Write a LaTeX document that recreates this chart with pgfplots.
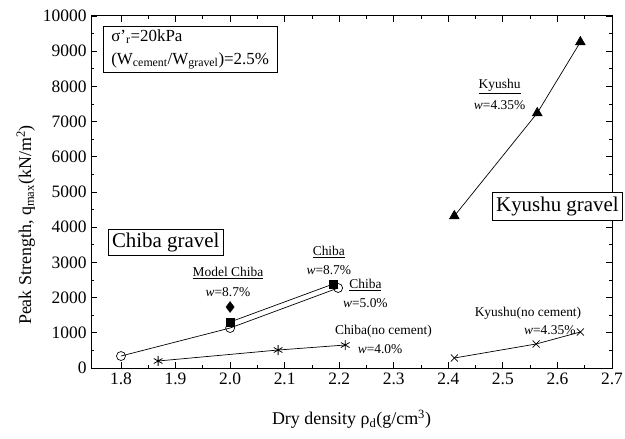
\documentclass[border=0pt]{standalone}
\usepackage{fontspec}
\setmainfont{Liberation Serif}
\usepackage{pgfplots}
\pgfplotsset{compat=1.18}
\begin{document}
\begin{tikzpicture}
\useasboundingbox (-91bp,-71bp) rectangle (534bp,368bp);
\begin{axis}[
  at={(0,0)}, anchor=south west, scale only axis,
  width=521bp, height=352bp,
  xmin=1.745, xmax=2.7, ymin=0, ymax=10000,
  xtick={1.8,1.9,2.0,2.1,2.2,2.3,2.4,2.5,2.6,2.7},
  ytick={0,1000,2000,3000,4000,5000,6000,7000,8000,9000,10000},
  scaled y ticks=false,
  minor x tick num=1, minor y tick num=1,
  tick align=inside,
  major tick length=6bp, minor tick length=3.5bp,
  tick style={black, line width=0.8pt},
  axis line style={line width=1pt},
  clip mode=individual,
  /pgf/number format/assume math mode=true,
  tick label style={font=\fontsize{17.5}{20}\selectfont},
  x tick label style={/pgf/number format/fixed, /pgf/number format/fixed zerofill, /pgf/number format/precision=1, yshift=-1bp},
  y tick label style={/pgf/number format/fixed, /pgf/number format/1000 sep={}, xshift=-1bp},
  xlabel={Dry density ρ\textsubscript{d}(g/cm\textsuperscript{3})},
  ylabel={Peak Strength, q\textsubscript{max}(kN/m\textsuperscript{2})},
  every axis x label/.style={at={(axis description cs:0.5,-0.145)}, anchor=center, font=\fontsize{18}{20}\selectfont},
  every axis y label/.style={at={(axis description cs:-0.125,0.406)}, anchor=center, rotate=90, font=\fontsize{18}{20}\selectfont},
]
% Chiba w=5.0% (open circles)
\addplot[black, line width=0.7pt, mark=o, mark size=4.5bp, mark options={fill=white, line width=0.7pt}]
  coordinates {(1.8,340) (2.0,1136) (2.198,2273)};
% Chiba w=8.7% (filled squares)
\addplot[black, line width=0.7pt, mark=square*, mark size=4bp]
  coordinates {(2.0,1307) (2.189,2386)};
% Model Chiba (diamond)
\addplot[black, only marks, mark=diamond*, mark size=5.5bp]
  coordinates {(2.0,1733)};
% Chiba no cement (asterisks)
\addplot[black, line width=0.7pt, mark=asterisk, mark size=5bp, mark options={line width=0.8pt}]
  coordinates {(1.868,199) (2.088,511) (2.211,653)};
% Kyushu (filled triangles)
\addplot[black, line width=0.7pt, mark=triangle*, mark size=5.5bp]
  coordinates {(2.411,4318) (2.563,7244) (2.642,9261)};
% Kyushu no cement (x)
\addplot[black, line width=0.7pt, mark=x, mark size=5bp, mark options={line width=0.8pt}]
  coordinates {(2.411,284) (2.561,682) (2.642,1023)};

\node[draw, fill=white, anchor=north west, align=left, line width=0.7pt, inner xsep=8bp, inner ysep=3bp,
  font=\fontsize{17}{23}\selectfont] at (axis cs:1.767,9716)
  {σ'\textsubscript{r}=20kPa\\(W\textsubscript{cement}/W\textsubscript{gravel})=2.5\%};
\node[draw, fill=white, line width=0.7pt, inner xsep=3.5bp, inner ysep=3.5bp, font=\fontsize{21}{24}\selectfont]
  at (axis cs:1.882,3565) {Chiba gravel};
\coordinate (ky) at (axis cs:2.6,4602);

\tikzset{ann/.style={font=\fontsize{13.5}{16}\selectfont, inner sep=0pt}}
\node[ann] at (axis cs:1.996,2700) {\underline{Model Chiba}};
\node[ann] at (axis cs:1.996,2160) {\textit{w}=8.7\%};
\node[ann] at (axis cs:2.181,3300) {\underline{Chiba}};
\node[ann] at (axis cs:2.181,2780) {\textit{w}=8.7\%};
\node[ann] at (axis cs:2.248,2360) {\underline{Chiba}};
\node[ann] at (axis cs:2.248,1850) {\textit{w}=5.0\%};
\node[ann] at (axis cs:2.281,1030) {Chiba(no cement)};
\node[ann] at (axis cs:2.275,540) {\textit{w}=4.0\%};
\node[ann] at (axis cs:2.494,7990) {\underline{Kyushu}};
\node[ann] at (axis cs:2.494,7470) {\textit{w}=4.35\%};
\node[ann] at (axis cs:2.546,1560) {Kyushu(no cement)};
\node[ann] at (axis cs:2.586,1080) {\textit{w}=4.35\%};
\end{axis}
\node[draw, fill=white, line width=0.7pt, inner xsep=4bp, inner ysep=4.5bp, font=\fontsize{21}{24}\selectfont]
  at (ky) {Kyushu gravel};
\end{tikzpicture}
\end{document}
